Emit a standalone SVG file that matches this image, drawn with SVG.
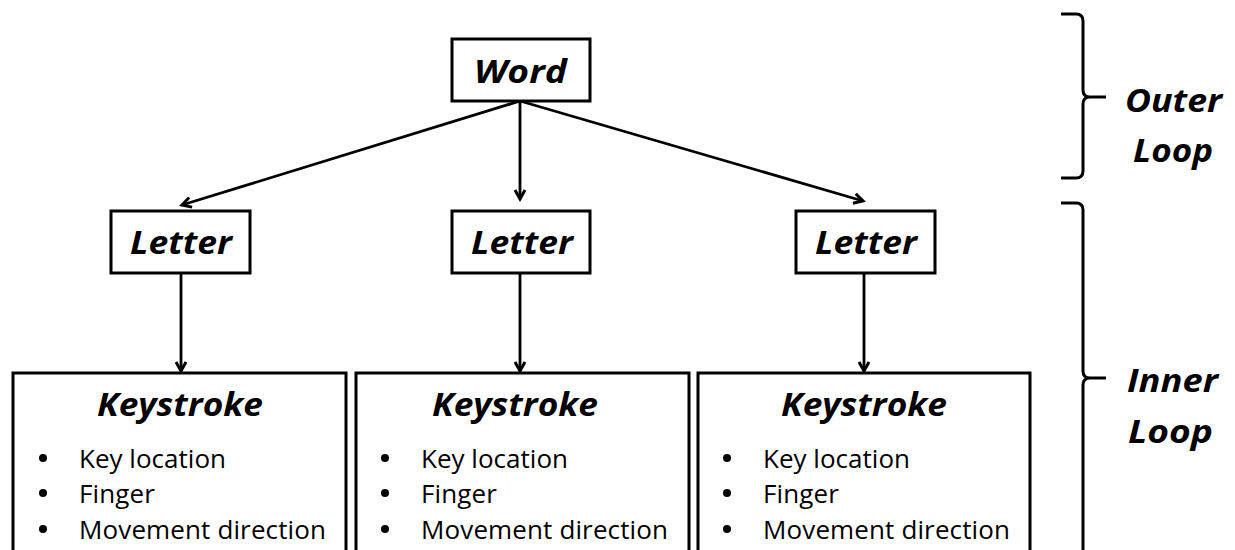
<svg xmlns="http://www.w3.org/2000/svg" width="1235" height="550" viewBox="0 0 1235 550">
<style>
.box{fill:#fff;stroke:#000;stroke-width:3}
.t{font-family:"Open Sans",Lato,sans-serif;font-weight:bold;font-style:italic;font-size:33px;fill:#000}
.b{font-family:"Open Sans",Lato,sans-serif;font-size:26px;fill:#000}
.dot{fill:#000}
.c{fill:none;stroke:#000;stroke-width:2.8}
.br{fill:none;stroke:#000;stroke-width:3}
</style>
<defs>
<marker id="arr" markerWidth="14" markerHeight="14" refX="11" refY="7" orient="auto" markerUnits="userSpaceOnUse">
<path d="M2,2 L11,7 L2,12" fill="none" stroke="#000" stroke-width="3"/>
</marker>
</defs>
<g id="connectors">
<line class="c" x1="520" y1="101" x2="182" y2="205" marker-end="url(#arr)"/>
<line class="c" x1="520" y1="101" x2="520" y2="199" marker-end="url(#arr)"/>
<line class="c" x1="520" y1="101" x2="863" y2="201" marker-end="url(#arr)"/>
<line class="c" x1="181" y1="273" x2="181" y2="371" marker-end="url(#arr)"/>
<line class="c" x1="520" y1="273" x2="520" y2="371" marker-end="url(#arr)"/>
<line class="c" x1="864" y1="273" x2="864" y2="371" marker-end="url(#arr)"/>
</g>
<g id="word"><rect class="box" x="452" y="39" width="138" height="62"/><text class="t" x="474" y="83" textLength="93" lengthAdjust="spacingAndGlyphs">Word</text></g>
<g id="letter1"><rect class="box" x="111" y="211" width="139" height="62"/><text class="t" x="130" y="254" textLength="102" lengthAdjust="spacingAndGlyphs">Letter</text></g>
<g id="letter2"><rect class="box" x="452" y="211" width="138" height="62"/><text class="t" x="471" y="254" textLength="102" lengthAdjust="spacingAndGlyphs">Letter</text></g>
<g id="letter3"><rect class="box" x="796" y="211" width="139" height="62"/><text class="t" x="815" y="254" textLength="102" lengthAdjust="spacingAndGlyphs">Letter</text></g>
<g id="keystroke1"><rect class="box" x="13" y="373" width="333" height="190"/><text class="t" x="97" y="416" textLength="166" lengthAdjust="spacingAndGlyphs">Keystroke</text>
<circle class="dot" cx="43" cy="458" r="4"/><text class="b" x="79" y="468" textLength="147">Key location</text>
<circle class="dot" cx="43" cy="493" r="4"/><text class="b" x="79" y="503" textLength="76">Finger</text>
<circle class="dot" cx="43" cy="529" r="4"/><text class="b" x="79" y="539" textLength="247">Movement direction</text></g>
<g id="keystroke2"><rect class="box" x="356" y="373" width="333" height="190"/><text class="t" x="432" y="416" textLength="166" lengthAdjust="spacingAndGlyphs">Keystroke</text>
<circle class="dot" cx="385" cy="458" r="4"/><text class="b" x="421" y="468" textLength="147">Key location</text>
<circle class="dot" cx="385" cy="493" r="4"/><text class="b" x="421" y="503" textLength="76">Finger</text>
<circle class="dot" cx="385" cy="529" r="4"/><text class="b" x="421" y="539" textLength="247">Movement direction</text></g>
<g id="keystroke3"><rect class="box" x="698" y="373" width="332" height="190"/><text class="t" x="781" y="416" textLength="166" lengthAdjust="spacingAndGlyphs">Keystroke</text>
<circle class="dot" cx="727" cy="458" r="4"/><text class="b" x="763" y="468" textLength="147">Key location</text>
<circle class="dot" cx="727" cy="493" r="4"/><text class="b" x="763" y="503" textLength="76">Finger</text>
<circle class="dot" cx="727" cy="529" r="4"/><text class="b" x="763" y="539" textLength="247">Movement direction</text></g>
<g id="outer-loop">
<path class="br" d="M1061,14 L1076,14 Q1083,14 1083,21 L1083,90 Q1083,97 1090,97 L1106,97 M1090,97 Q1083,97 1083,104 L1083,171 Q1083,178 1076,178 L1061,178"/>
<text class="t" x="1125" y="112" textLength="97" lengthAdjust="spacingAndGlyphs">Outer</text><text class="t" x="1133" y="162" textLength="80" lengthAdjust="spacingAndGlyphs">Loop</text>
</g>
<g id="inner-loop">
<path class="br" d="M1061,203 L1076,203 Q1083,203 1083,210 L1083,371 Q1083,378 1090,378 L1106,378 M1090,378 Q1083,378 1083,385 L1083,560"/>
<text class="t" x="1127" y="392" textLength="91" lengthAdjust="spacingAndGlyphs">Inner</text><text class="t" x="1128" y="443" textLength="85" lengthAdjust="spacingAndGlyphs">Loop</text>
</g>
</svg>
